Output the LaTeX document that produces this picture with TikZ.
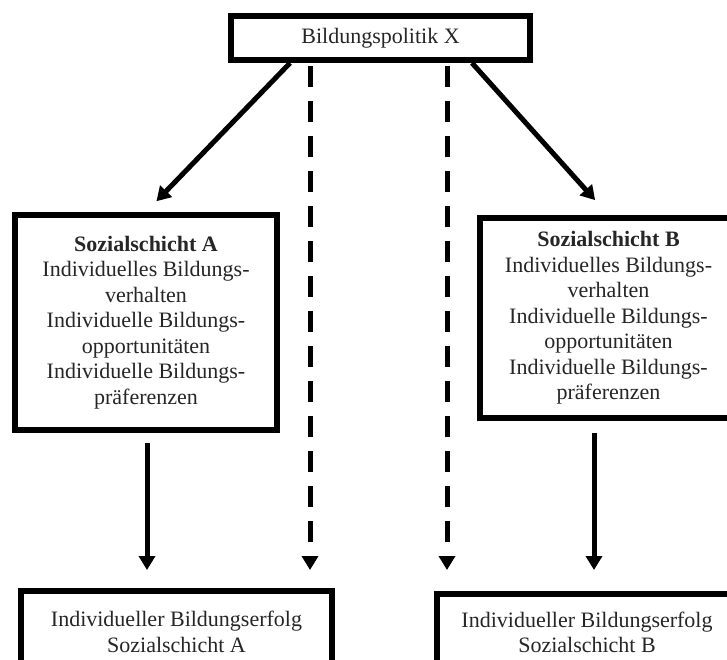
\documentclass[tikz,border=0pt]{standalone}
\usepackage{fontspec}
\setmainfont{Liberation Serif}
\usetikzlibrary{arrows.meta,calc}
\begin{document}
\begin{tikzpicture}[x=1pt,y=-1pt,
  box/.style={draw=black, line width=6pt, fill=white, align=center, inner sep=0pt,
    font=\fontsize{22}{25.5}\selectfont, text=black!85},
  conn/.style={line width=5pt, -{Triangle[length=14pt,width=16pt]}},
  dconn/.style={conn, dash pattern=on 21pt off 14pt}]
\useasboundingbox[fill=white] (0,0) rectangle (727,659);
% boxes
\node[box, minimum width=299pt, minimum height=44pt] (top) at (380.5,38) {Bildungspolitik X};
\node[box, minimum width=262pt, minimum height=215pt] (sa) at (146,322.5)
  {\textbf{Sozialschicht A}\\Individuelles Bildungs-\\verhalten\\Individuelle Bildungs-\\opportunitäten\\Individuelle Bildungs-\\präferenzen};
\node[box, minimum width=257pt, minimum height=200pt] (sb) at (608.5,318)
  {\textbf{Sozialschicht B}\\Individuelles Bildungs-\\verhalten\\Individuelle Bildungs-\\opportunitäten\\Individuelle Bildungs-\\präferenzen};
\node[box, minimum width=311pt, minimum height=82pt] (ea) at (176.5,632)
  {Individueller Bildungserfolg\\Sozialschicht A};
\node[box, minimum width=300pt, minimum height=78pt] (eb) at (587,632.5)
  {Individueller Bildungserfolg\\Sozialschicht B};
% connector end points
\coordinate (l1) at ($(top.south)+(-90.5,0)$);
\coordinate (r1) at ($(top.south)+(91.5,0)$);
\coordinate (d1) at ($(top.south)+(-70.5,3)$);
\coordinate (d2) at ($(top.south)+(66.5,3)$);
\coordinate (a1) at ($(sa.south)+(1,10)$);
\coordinate (b1) at ($(sb.south)+(-14.5,12)$);
% connectors
\draw[conn, shorten >=15pt] (l1) -- (sa.north);
\draw[conn, shorten >=20pt] (r1) -- (sb.north);
\draw[dconn, shorten >=18pt] (d1) -- (d1 |- ea.north);
\draw[dconn, shorten >=20.5pt] (d2) -- (d2 |- eb.north);
\draw[conn, shorten >=18pt] (a1) -- (a1 |- ea.north);
\draw[conn, shorten >=20.5pt] (b1) -- (b1 |- eb.north);
\end{tikzpicture}
\end{document}
